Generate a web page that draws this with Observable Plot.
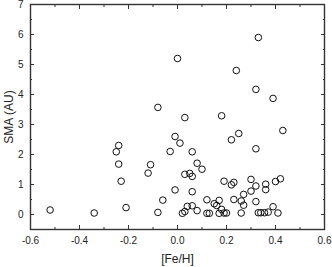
<!DOCTYPE html>
<html><head><meta charset="utf-8">
<script src="https://cdn.jsdelivr.net/npm/d3@7"></script>
<script src="https://cdn.jsdelivr.net/npm/@observablehq/plot@0.6"></script>
<style>body{margin:0;background:#fff} svg{display:block}</style>
</head><body><div id="chart"></div>
<script>
const feh = [-0.52,-0.34,-0.25,-0.24,-0.24,-0.23,-0.21,-0.12,-0.11,-0.08,-0.08,-0.06,-0.03,-0.01,-0.01,0.00,0.01,0.02,0.03,0.03,0.03,0.04,0.05,0.06,0.06,0.06,0.06,0.08,0.08,0.10,0.12,0.12,0.13,0.15,0.16,0.17,0.17,0.18,0.18,0.19,0.19,0.20,0.22,0.22,0.23,0.23,0.24,0.25,0.26,0.26,0.27,0.27,0.30,0.30,0.32,0.32,0.32,0.32,0.33,0.33,0.34,0.355,0.36,0.36,0.37,0.39,0.39,0.40,0.41,0.42,0.43];
const sma = [0.15,0.05,2.09,2.3,1.68,1.11,0.23,1.38,1.66,3.57,0.07,0.48,2.1,0.82,2.6,5.2,2.38,0.04,3.23,1.34,0.1,0.27,1.37,1.27,2.09,0.76,0.29,0.13,1.71,1.51,0.49,0.04,0.04,0.36,0.3,0.47,0.04,3.29,0.17,1.11,0.05,0.05,2.49,0.99,1.07,0.5,4.8,2.7,0.05,0.45,0.67,0.31,1.17,0.78,2.19,4.17,0.95,0.43,5.9,0.06,0.06,0.06,1.01,0.83,0.08,3.87,0.26,1.1,0.05,1.19,2.8];
const xMajor = [-0.6,-0.4,-0.2,0,0.2,0.4,0.6];
const xMinor = [-0.5,-0.3,-0.1,0.1,0.3,0.5];
const yMajor = [0,1,2,3,4,5,6,7];
const yMinor = [0.5,1.5,2.5,3.5,4.5,5.5,6.5];
const data = feh.map((x, i) => ({x, y: sma[i]}));
const line = "#333";
const chart = Plot.plot({
  width: 332, height: 267,
  marginLeft: 30, marginRight: 8, marginTop: 4, marginBottom: 38,
  style: {fontFamily: "'Liberation Sans', Arial, sans-serif", fontSize: "10px", color: "#222", background: "#fff", overflow: "visible"},
  x: {domain: [-0.6, 0.6]},
  y: {domain: [-0.5, 7]},
  marks: [
    Plot.axisX(xMajor, {anchor: "bottom", tickSize: 0, tickPadding: 7, tickFormat: d => d.toFixed(1), label: null}),
    Plot.axisX({ticks: [], anchor: "bottom", tickSize: 0, label: "[Fe/H]", labelAnchor: "center", labelArrow: "none", labelOffset: 33, fontSize: 12}),
    Plot.axisY(yMajor, {anchor: "left", tickSize: 0, tickPadding: 7, tickFormat: d => String(d), label: null}),
    Plot.axisY({ticks: [], anchor: "left", tickSize: 0, label: "SMA (AU)", labelAnchor: "center", labelArrow: "none", labelOffset: 26, fontSize: 12}),
    Plot.axisX(xMajor, {anchor: "bottom", tickSize: -4, tickFormat: () => "", label: null, stroke: line}),
    Plot.axisX(xMinor, {anchor: "bottom", tickSize: -2, tickFormat: () => "", label: null, stroke: line}),
    Plot.axisX(xMajor, {anchor: "top", tickSize: -4, tickFormat: () => "", label: null, stroke: line}),
    Plot.axisX(xMinor, {anchor: "top", tickSize: -2, tickFormat: () => "", label: null, stroke: line}),
    Plot.axisY(yMajor, {anchor: "left", tickSize: -4, tickFormat: () => "", label: null, stroke: line}),
    Plot.axisY(yMinor, {anchor: "left", tickSize: -2, tickFormat: () => "", label: null, stroke: line}),
    Plot.axisY(yMajor, {anchor: "right", tickSize: -4, tickFormat: () => "", label: null, stroke: line}),
    Plot.axisY(yMinor, {anchor: "right", tickSize: -2, tickFormat: () => "", label: null, stroke: line}),
    Plot.frame({stroke: line, strokeWidth: 1.4}),
    Plot.dot(data, {x: "x", y: "y", r: 3.3, stroke: "#111", strokeWidth: 1, fill: "none"})
  ]
});
document.getElementById("chart").appendChild(chart);
</script>
</body></html>
